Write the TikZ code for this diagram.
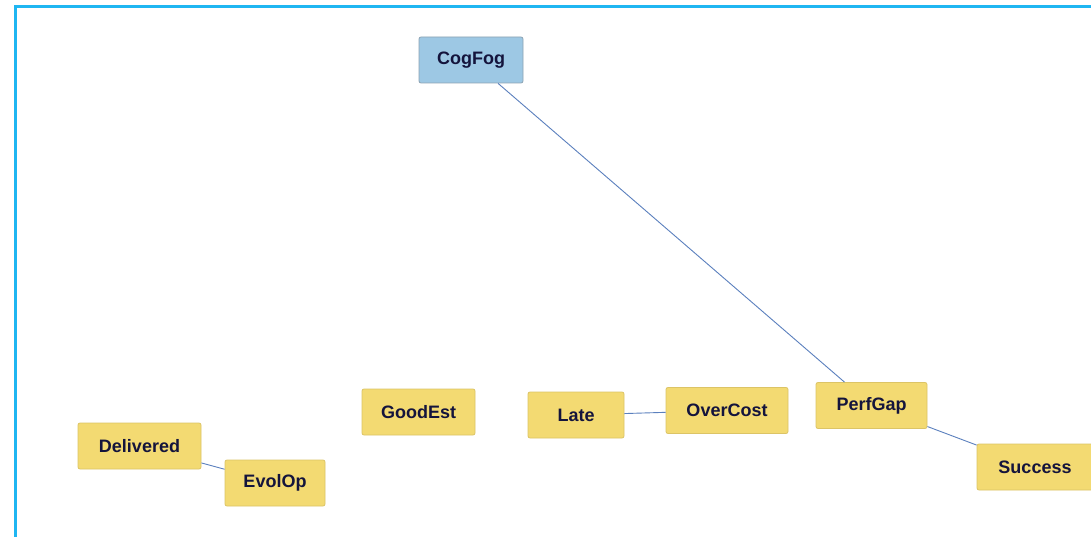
\documentclass[tikz,border=0pt]{standalone}
\usepackage{fontspec}
\setmainfont{Liberation Sans}
\begin{document}
\begin{tikzpicture}[x=1pt,y=-1pt,
  concept/.style={draw=boxedge, fill=boxfill, rounded corners=2pt, line width=0.8pt,
    minimum height=46pt, inner sep=0pt, font=\bfseries\fontsize{18}{20}\selectfont, text=labelink},
  rootconcept/.style={concept, draw=rootedge, fill=rootfill},
  link/.style={draw=linkblue, line width=0.9pt}]
\definecolor{boxfill}{HTML}{F3DA72}
\definecolor{boxedge}{HTML}{DCC466}
\definecolor{rootfill}{HTML}{9DC8E4}
\definecolor{rootedge}{HTML}{8DA3B3}
\definecolor{labelink}{HTML}{14143C}
\definecolor{linkblue}{HTML}{5B80BE}
\definecolor{framecyan}{HTML}{1FB6F2}
\useasboundingbox (0,0) rectangle (1091,537);
\clip (0,0) rectangle (1091,537);
\fill[white] (0,0) rectangle (1091,537);
% panel frame
\draw[framecyan, line width=2.2pt] (15.5,545) -- (15.5,6.5) -- (1100,6.5);
% concepts
\node[rootconcept, minimum width=104pt] (cogfog) at (471,60) {CogFog};
\node[concept, minimum width=123pt] (delivered) at (139.5,446) {Delivered};
\node[concept, minimum width=100pt] (evolop) at (275,483) {EvolOp};
\node[concept, minimum width=113pt] (goodest) at (418.5,412) {GoodEst};
\node[concept, minimum width=96pt] (late) at (576,415) {Late};
\node[concept, minimum width=122pt] (overcost) at (727,410.5) {OverCost};
\node[concept, minimum width=111pt] (perfgap) at (871.5,405.5) {PerfGap};
\node[concept, minimum width=116pt] (success) at (1035,467) {Success};
% links
\draw[link] (cogfog) -- (perfgap);
\draw[link] (delivered) -- (evolop);
\draw[link] (late) -- (overcost);
\draw[link] (perfgap) -- (success);
\end{tikzpicture}
\end{document}
